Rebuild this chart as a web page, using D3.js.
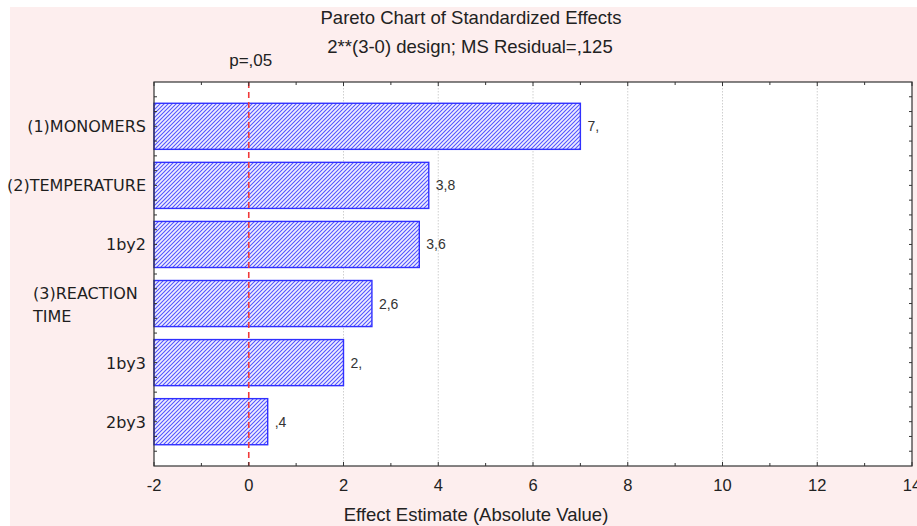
<!DOCTYPE html>
<html>
<head>
<meta charset="utf-8">
<script src="https://cdn.jsdelivr.net/npm/d3@7"></script>
<style>
  body { margin: 0; background: #fff; }
  text { font-family: "Liberation Sans", Arial, sans-serif; fill: #222; }
  .cat { font-family: "DejaVu Sans", Verdana, sans-serif; font-size: 16px; fill: #1e1e1e; }
</style>
</head>
<body>
<script>
var effects = ["(1)MONOMERS", "(2)TEMPERATURE", "1by2", "(3)REACTION TIME", "1by3", "2by3"],
    estimates = [7.0, 3.8, 3.6, 2.6, 2.0, 0.4],
    xTicks = [-2, 0, 2, 4, 6, 8, 10, 12, 14],
    pCritical = 0;

var W = 917, H = 526,
    plot = {left: 154, right: 912, top: 82, bottom: 466};

// Statistica prints 7.0 as "7," and 0.4 as ",4"
function fmt(v) {
  return d3.format(".1f")(v).replace(".", ",").replace(/0$/, "").replace(/^0/, "");
}

var svg = d3.select("body").append("svg")
    .attr("width", W)
    .attr("height", H);

var defs = svg.append("defs");
defs.append("pattern")
    .attr("id", "hatch")
    .attr("patternUnits", "userSpaceOnUse")
    .attr("width", 4)
    .attr("height", 4)
    .call(function(p) {
      p.append("rect").attr("width", 4).attr("height", 4).attr("fill", "#eeeeff");
      p.append("path")
        .attr("d", "M-1,1 l2,-2 M0,4 l4,-4 M3,5 l2,-2")
        .attr("stroke", "#5252ff")
        .attr("stroke-width", 1.05);
    });

// page background
svg.append("rect").attr("width", W).attr("height", H).attr("fill", "#fff");
svg.append("rect").attr("x", 10).attr("y", 7).attr("width", W - 10).attr("height", H - 7).attr("fill", "#fdeeee");

var x = d3.scaleLinear().domain([-2, 14]).range([plot.left, plot.right]),
    y = d3.scaleBand().domain(effects).range([plot.top, plot.bottom])
      .paddingInner(0.22).paddingOuter(0.36);

svg.append("rect")
    .attr("x", plot.left).attr("y", plot.top)
    .attr("width", plot.right - plot.left).attr("height", plot.bottom - plot.top)
    .attr("fill", "#fff");

// grid
svg.append("g").selectAll("line").data(xTicks.filter(function(d) { return d > 0 && d < 14; }))
    .enter().append("line")
    .attr("x1", function(d) { return x(d); })
    .attr("x2", function(d) { return x(d); })
    .attr("y1", plot.top).attr("y2", plot.bottom)
    .attr("stroke", "#cfcfcf")
    .attr("stroke-dasharray", "1.5,1.5");

// bars
svg.append("g").selectAll("rect").data(estimates)
    .enter().append("rect")
    .attr("x", x(-2))
    .attr("y", function(d, i) { return y(effects[i]); })
    .attr("width", function(d) { return x(d) - x(-2); })
    .attr("height", y.bandwidth())
    .attr("fill", "url(#hatch)")
    .attr("stroke", "#3030ff")
    .attr("stroke-width", 1.4);

svg.append("g").selectAll("text").data(estimates)
    .enter().append("text")
    .attr("x", function(d) { return x(d) + 7; })
    .attr("y", function(d, i) { return y(effects[i]) + y.bandwidth() / 2 + 5; })
    .style("font-size", "14px")
    .style("fill", "#333")
    .text(fmt);

// significance line
svg.append("line")
    .attr("x1", x(pCritical)).attr("x2", x(pCritical))
    .attr("y1", plot.top).attr("y2", plot.bottom)
    .attr("stroke", "#f03a3a")
    .attr("stroke-width", 1.6)
    .attr("stroke-dasharray", "6,4");
svg.append("text")
    .attr("x", x(pCritical) + 2).attr("y", 66)
    .attr("text-anchor", "middle")
    .style("font-size", "17px")
    .text("p=,05");

// frame and ticks
svg.append("rect")
    .attr("x", plot.left).attr("y", plot.top)
    .attr("width", plot.right - plot.left).attr("height", plot.bottom - plot.top)
    .attr("fill", "none")
    .attr("stroke", "#333")
    .attr("stroke-width", 1.2);

var xMinor = d3.range(-2, 14.01, 1),
    step = y.step(),
    yMinor = d3.range(-2, 4 * effects.length + 2).map(function(k) {
      return y(effects[0]) + y.bandwidth() / 2 + k * step / 4;
    }).filter(function(v) { return v > plot.top + 2 && v < plot.bottom - 2; });

var ticks = svg.append("g").attr("stroke", "#333").attr("stroke-width", 1);
xMinor.forEach(function(d) {
  var len = d % 2 === 0 ? 4 : 3;
  ticks.append("line").attr("x1", x(d)).attr("x2", x(d)).attr("y1", plot.bottom).attr("y2", plot.bottom - len);
  ticks.append("line").attr("x1", x(d)).attr("x2", x(d)).attr("y1", plot.top).attr("y2", plot.top + len);
});
yMinor.forEach(function(v, i) {
  ticks.append("line").attr("x1", plot.left).attr("x2", plot.left + 3).attr("y1", v).attr("y2", v);
  ticks.append("line").attr("x1", plot.right).attr("x2", plot.right - 3).attr("y1", v).attr("y2", v);
});

svg.append("g").selectAll("text").data(xTicks)
    .enter().append("text")
    .attr("x", function(d) { return x(d); })
    .attr("y", 491)
    .attr("text-anchor", "middle")
    .style("font-size", "16.5px")
    .text(function(d) { return d; });

// category labels
svg.append("g").selectAll("text").data(effects)
    .enter().append("text")
    .attr("class", "cat")
    .each(function(d) {
      var t = d3.select(this),
          cy = y(d) + y.bandwidth() / 2;
      if (d === "(3)REACTION TIME") {
        t.attr("x", 33).attr("y", cy - 5);
        t.append("tspan").attr("x", 33).text("(3)REACTION");
        t.append("tspan").attr("x", 33).attr("dy", 23).text("TIME");
      } else {
        t.attr("x", 146).attr("y", cy + 6).attr("text-anchor", "end").text(d);
      }
    });

// titles
svg.append("text").attr("x", 471).attr("y", 24).attr("text-anchor", "middle")
    .style("font-size", "18.5px").text("Pareto Chart of Standardized Effects");
svg.append("text").attr("x", 470).attr("y", 53).attr("text-anchor", "middle")
    .style("font-size", "18.5px").text("2**(3-0) design; MS Residual=,125");
svg.append("text").attr("x", 476).attr("y", 521).attr("text-anchor", "middle")
    .style("font-size", "18.5px").text("Effect Estimate (Absolute Value)");
</script>
</body>
</html>
